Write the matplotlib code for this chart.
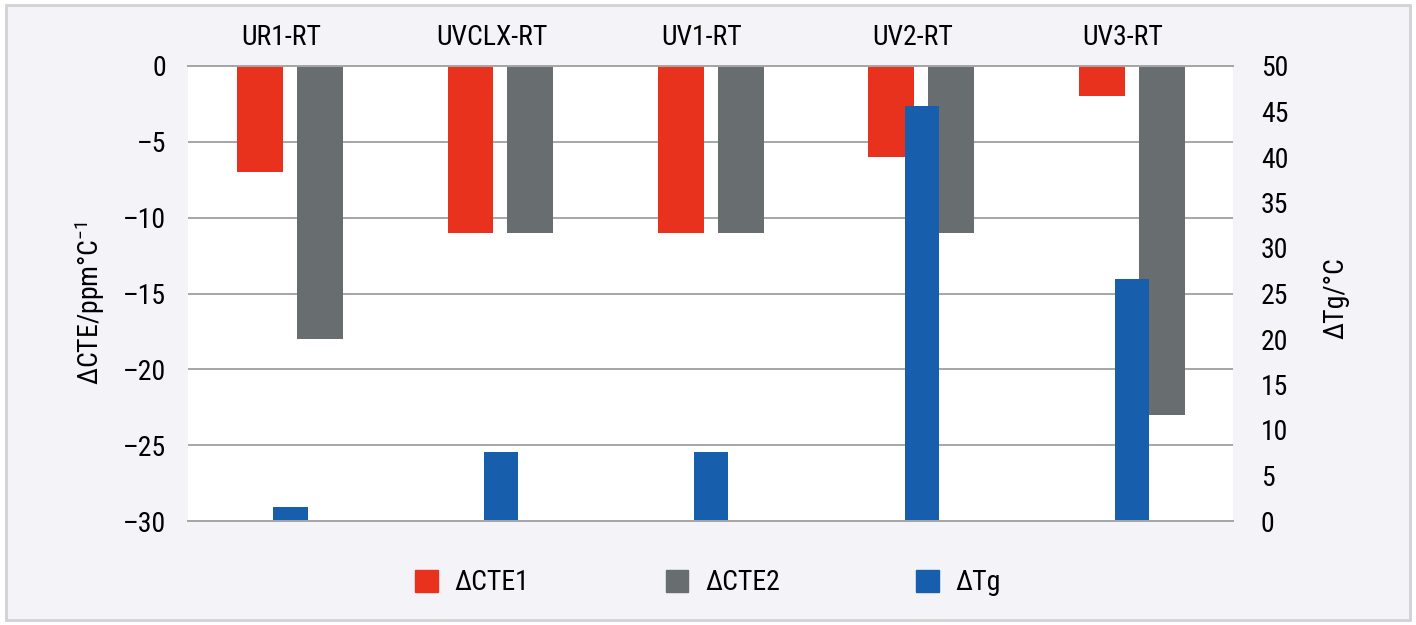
import matplotlib
matplotlib.use("Agg")
import matplotlib.pyplot as plt
from matplotlib.patches import Rectangle, Patch
import numpy as np

plt.rcParams['font.family'] = ['Roboto Condensed', 'DejaVu Sans Condensed',
                               'Liberation Sans Narrow', 'Roboto', 'DejaVu Sans']
plt.rcParams['mathtext.default'] = 'regular'

# data
categories = ['UR1-RT', 'UVCLX-RT', 'UV1-RT', 'UV2-RT', 'UV3-RT']
cte1 = [-7, -11, -11, -6, -2]
cte2 = [-18, -11, -11, -11, -23]
tg = [1.5, 7.6, 7.6, 45.6, 26.6]

red = '#e8321e'
grey = '#686e70'
blue = '#175fad'
gridc = '#a6a6a6'
fs = 20

fig = plt.figure(figsize=(14.16, 6.25), dpi=100, facecolor='white')
fig.patches.append(Rectangle((6 / 1416, 5 / 625), 1404 / 1416, 615 / 625,
                             transform=fig.transFigure, facecolor='#f3f3f8',
                             edgecolor='#d2d2d6', linewidth=2, zorder=-5))

ax = fig.add_axes([188 / 1416, 1 - 521 / 625, 1045 / 1416, 455 / 625])
ax.set_facecolor('white')
ax2 = ax.twinx()

x = np.arange(len(categories))
ax.bar(x - 0.10, cte1, width=0.218, color=red, zorder=2)
ax.bar(x + 0.185, cte2, width=0.218, color=grey, zorder=2)
ax2.bar(x + 0.045, tg, width=0.162, color=blue, zorder=2)

ax.set_xlim(-0.442, 4.523)
ax.set_ylim(-30, 0)
ax.set_yticks(np.arange(-30, 1, 5))
ax.set_yticklabels(['\u201330', '\u201325', '\u201320', '\u201315', '\u201310', '\u20135', '0'])
ax2.set_ylim(0, 50)
ax2.set_yticks(np.arange(0, 51, 5))

ax.set_xticks(x)
ax.set_xticklabels(categories)
ax.xaxis.tick_top()
ax.tick_params(axis='x', length=0, pad=11, labelsize=fs)
ax.tick_params(axis='y', length=0, pad=16, labelsize=fs)
ax2.tick_params(axis='y', length=0, pad=20, labelsize=fs)

ax.yaxis.grid(True, color=gridc, linewidth=1.4)
ax.set_axisbelow(True)
for a in (ax, ax2):
    a.spines['left'].set_visible(False)
    a.spines['right'].set_visible(False)
    a.spines['top'].set_color(gridc)
    a.spines['bottom'].set_color(gridc)
    a.spines['top'].set_linewidth(1.4)
    a.spines['bottom'].set_linewidth(1.4)

ax.set_ylabel('\u0394CTE/ppm\u00b0C$^{-1}$', fontsize=fs)
ax.yaxis.set_label_coords(-0.0775, 0.479)
ax2.set_ylabel('\u0394Tg/\u00b0C', fontsize=fs, rotation=90)
ax2.yaxis.set_label_coords(1.086, 0.49)

handles = [Patch(color=red), Patch(color=grey), Patch(color=blue)]
fig.legend(handles, ['\u0394CTE1', '\u0394CTE2', '\u0394Tg'], loc='center',
           bbox_to_anchor=(708 / 1416, 1 - 583 / 625), ncol=3, frameon=False,
           fontsize=fs, handlelength=0.82, handleheight=0.82, handletextpad=0.6,
           columnspacing=4.9)

fig.savefig('out.png', dpi=100, facecolor=fig.get_facecolor())
